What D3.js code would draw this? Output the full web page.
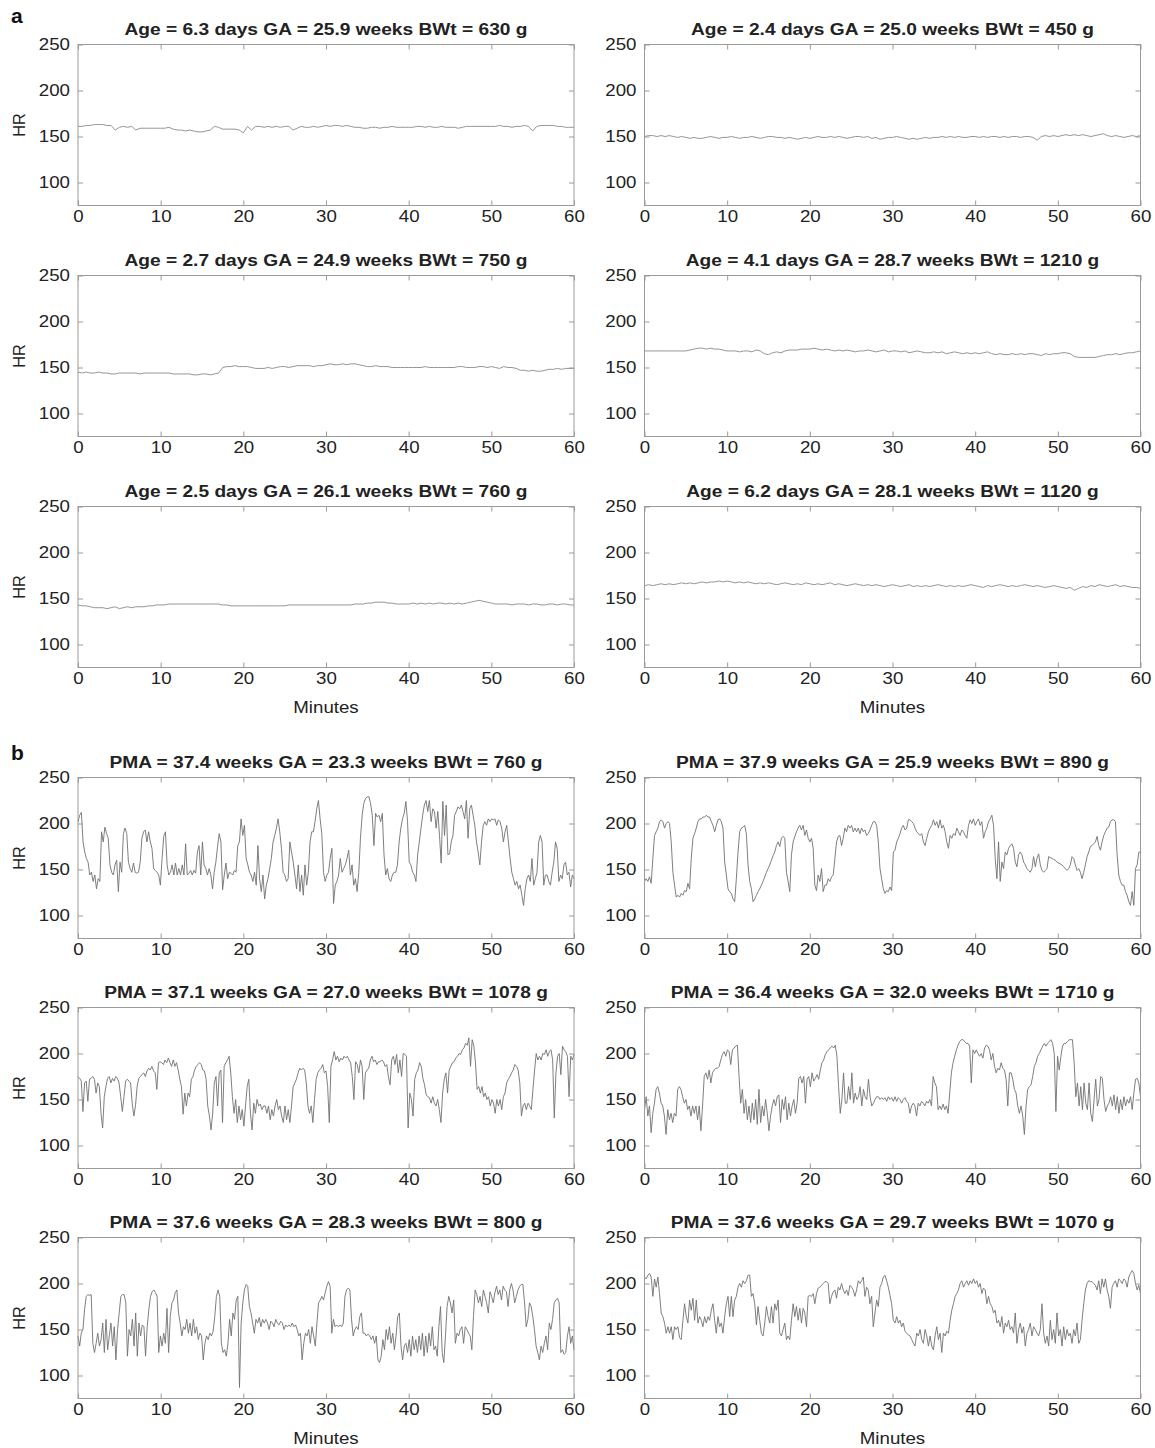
<!DOCTYPE html>
<html>
<head>
<meta charset="utf-8">
<script src="https://cdn.jsdelivr.net/npm/d3@7"></script>
<style>
  body { margin: 0; background: #fff; }
</style>
</head>
<body>
<div id="chart"></div>
<script>
var W = 1155, H = 1448;

// x ticks (minutes) and y ticks (HR)
var minutes = [0, 10, 20, 30, 40, 50, 60];
var hrTicks = [100, 150, 200, 250];

// panel titles
var titlesA = [
  "Age = 6.3 days GA = 25.9 weeks BWt = 630 g",
  "Age = 2.4 days GA = 25.0 weeks BWt = 450 g",
  "Age = 2.7 days GA = 24.9 weeks BWt = 750 g",
  "Age = 4.1 days GA = 28.7 weeks BWt = 1210 g",
  "Age = 2.5 days GA = 26.1 weeks BWt = 760 g",
  "Age = 6.2 days GA = 28.1 weeks BWt = 1120 g"
];
var titlesB = [
  "PMA = 37.4 weeks GA = 23.3 weeks BWt = 760 g",
  "PMA = 37.9 weeks GA = 25.9 weeks BWt = 890 g",
  "PMA = 37.1 weeks GA = 27.0 weeks BWt = 1078 g",
  "PMA = 36.4 weeks GA = 32.0 weeks BWt = 1710 g",
  "PMA = 37.6 weeks GA = 28.3 weeks BWt = 800 g",
  "PMA = 37.6 weeks GA = 29.7 weeks BWt = 1070 g"
];

// heart rate traces, evenly spaced over 0-60 minutes
var hrA1 = [161,161,162,162,163,163,163,162,162,157,160,161,160,161,157,159,159,159,159,159,159,159,160,158,157,157,156,157,156,155,155,156,157,161,160,158,158,158,158,157,154,161,157,161,161,160,161,160,161,160,161,161,157,159,161,160,160,161,160,161,162,161,162,162,161,162,161,160,160,159,159,160,160,159,160,160,161,160,160,160,160,160,161,161,160,161,160,160,161,160,160,160,159,160,161,161,161,161,161,161,161,161,162,161,161,160,161,161,162,161,156,161,162,162,162,162,161,161,160,160,160];
var hrA2 = [150,151,151,150,151,150,151,150,149,150,149,148,149,148,148,149,150,149,148,149,149,150,149,148,149,149,150,149,148,149,150,150,149,149,148,149,148,147,148,149,148,149,150,149,149,150,149,150,149,148,149,150,150,149,150,148,149,147,148,149,149,150,149,148,147,148,147,148,149,148,149,149,150,149,150,149,150,149,149,150,150,149,150,149,150,150,149,150,149,150,150,149,150,150,149,146,150,151,150,151,150,151,152,151,152,151,152,151,150,151,152,153,151,150,151,150,149,150,151,150,151];
var hrA3 = [145,144,145,144,144,145,144,144,143,143,144,144,144,144,144,143,144,144,144,144,144,144,144,143,143,143,143,143,142,142,143,143,142,143,144,150,151,151,152,151,151,151,150,149,149,149,150,149,150,151,151,150,151,152,152,152,152,151,152,152,153,154,153,153,154,153,154,154,153,152,151,151,152,151,151,151,150,150,150,150,150,150,150,150,151,150,150,150,150,150,150,150,151,151,150,150,150,151,151,150,151,150,149,151,150,150,149,147,147,146,147,146,146,147,148,148,149,148,149,149,149];
var hrA4 = [168,168,168,168,168,168,168,168,168,168,168,169,170,171,171,170,171,170,170,169,168,168,168,167,168,168,167,169,168,165,164,166,167,166,168,169,169,169,170,170,170,171,170,169,170,169,168,169,168,169,168,167,168,168,169,168,167,168,169,167,168,168,167,168,166,167,168,167,166,166,167,166,167,165,166,167,166,165,166,165,166,165,166,167,165,164,165,164,164,165,164,165,164,165,165,164,163,165,164,165,165,166,166,165,162,161,161,161,161,161,162,163,164,164,165,164,165,166,166,167,168];
var hrA5 = [143,142,142,141,140,140,140,139,140,141,139,140,141,140,141,141,141,142,142,143,143,143,144,144,144,144,144,144,144,144,144,144,144,144,144,143,143,142,142,142,142,142,142,142,142,142,142,142,142,142,142,143,143,143,143,143,143,143,143,143,143,143,143,143,143,143,143,144,144,144,145,145,146,146,146,145,145,144,144,144,144,145,144,145,144,145,144,145,145,144,145,144,145,144,145,146,147,148,147,146,145,144,144,144,144,143,144,144,144,143,144,144,143,143,144,144,143,144,144,143,143];
var hrA6 = [164,165,164,165,166,165,166,165,166,167,166,167,166,167,168,167,168,168,169,168,169,168,167,168,167,168,167,166,167,166,167,166,165,166,167,166,165,166,165,167,166,165,166,165,166,167,165,166,165,164,165,166,165,164,165,164,165,164,163,164,165,164,163,164,165,163,164,163,164,163,164,165,164,163,164,163,164,163,164,165,164,163,162,164,163,164,165,164,163,164,163,164,165,164,163,164,163,162,163,164,163,162,161,162,159,161,163,162,164,163,165,164,163,164,165,163,164,163,162,162,161];

var hrB1 = [202,209,212,180,169,162,158,144,147,137,144,129,140,137,
  191,180,196,189,184,155,147,144,155,160,126,158,147,189,195,189,158,151,147,157,147,146,147,158,184,191,193,180,191,180,173,151,149,147,144,133,162,186,191,155,144,147,155,144,157,144,151,144,155,144,178,144,146,149,144,149,146,169,176,144,180,155,151,144,151,144,129,147,158,175,189,180,128,144,157,140,147,146,144,149,147,176,180,205,187,198,162,155,147,144,137,147,133,176,140,126,144,118,133,140,151,162,180,187,195,205,191,173,147,144,137,140,180,169,158,144,129,155,126,144,122,155,133,147,180,191,191,202,216,225,205,189,147,137,144,147,162,173,113,133,137,144,162,147,151,155,162,171,144,155,133,140,126,147,184,209,222,227,229,229,222,209,176,211,207,209,202,211,166,144,151,140,137,144,147,147,155,180,195,205,211,224,202,158,155,147,144,137,166,180,195,209,220,225,213,225,202,216,213,195,213,187,157,224,187,220,166,167,180,187,209,213,218,216,220,213,205,225,184,216,220,209,198,180,169,155,180,198,202,198,205,202,205,204,205,198,204,202,195,180,191,198,180,162,147,140,133,137,129,133,122,111,129,140,144,137,162,133,140,147,180,187,180,133,144,144,137,133,147,158,180,173,137,144,140,155,158,144,147,131,144,140];

var hrB2 = [137,140,137,142,135,162,187,191,195,202,204,202,195,200,202,200,
  180,147,133,120,122,120,124,122,127,126,135,129,162,184,189,195,202,205,205,207,207,209,207,207,202,198,191,198,204,205,202,195,158,144,129,126,124,118,115,140,169,191,195,196,198,189,155,137,129,115,118,122,126,129,133,137,142,147,151,155,160,165,169,176,180,175,184,186,184,147,137,126,166,180,186,191,195,198,193,198,187,193,184,180,184,173,133,127,144,137,151,126,133,133,140,137,142,144,162,180,186,187,176,184,195,191,198,195,198,191,195,191,195,189,195,191,193,187,189,193,198,202,202,198,180,151,140,129,124,127,126,131,127,169,171,180,184,189,195,198,193,195,204,204,202,200,195,191,189,187,189,180,176,184,191,195,198,204,198,202,195,204,195,198,191,180,173,187,184,189,187,195,191,187,193,191,187,184,198,204,200,205,198,202,205,198,202,184,191,195,202,205,209,198,162,140,180,137,158,151,169,166,173,176,178,173,158,153,166,169,166,158,155,151,149,147,151,164,153,162,167,155,149,147,149,151,164,163,162,161,160,158,157,156,155,153,151,149,151,155,164,162,155,149,151,147,140,147,155,164,169,175,176,178,180,186,176,171,180,187,191,195,196,202,204,204,202,166,144,137,133,133,126,122,115,111,126,111,151,155,169,169];

var hrB3 = [175,173,170,137,168,170,148,172,173,175,172,157,168,164,135,119,153,164,173,175,168,173,170,175,173,168,153,137,153,170,172,170,168,146,132,143,164,173,175,177,179,175,181,184,182,186,181,179,161,190,191,190,188,193,190,195,190,186,193,186,190,182,172,164,134,157,143,157,153,172,175,182,186,188,190,188,182,181,172,143,132,117,135,168,175,143,179,182,125,186,190,193,197,179,153,135,150,125,143,128,139,121,143,164,172,135,117,146,135,150,143,145,139,143,143,135,143,128,139,132,143,150,139,143,132,125,143,128,139,125,143,164,168,172,179,184,182,184,182,168,143,135,143,125,150,172,179,182,184,188,179,181,164,125,186,193,202,193,197,191,195,193,197,195,197,193,190,175,150,191,188,179,193,186,150,179,182,184,193,197,191,193,188,191,191,193,191,186,188,175,166,193,197,188,199,179,193,175,200,199,197,119,157,150,132,172,179,182,190,186,173,166,155,153,152,146,153,146,143,150,139,125,157,172,179,157,182,186,190,191,195,197,200,199,204,206,211,209,217,186,215,208,190,161,164,157,164,153,157,150,153,143,150,146,135,150,143,150,139,153,157,168,172,175,179,182,188,186,182,168,132,143,146,139,146,143,139,161,182,200,193,197,193,200,199,204,197,202,204,193,130,179,197,200,177,208,204,202,197,153,197,193,199];

var hrB4 = [139,153,132,143,114,135,146,161,164,157,146,143,132,112,139,128,135,125,135,132,161,164,161,153,146,150,139,143,132,143,135,143,128,143,116,143,175,179,172,182,168,179,182,184,184,186,193,199,202,197,204,202,188,204,206,208,209,175,146,161,135,150,128,143,125,146,128,150,123,161,125,143,132,150,135,116,132,143,150,143,153,155,125,150,139,153,128,146,132,143,150,135,146,173,175,168,175,146,172,175,164,179,170,173,177,172,182,190,193,199,202,204,206,208,206,209,197,164,135,150,179,146,146,164,150,179,146,157,150,153,164,143,161,153,150,172,153,143,146,150,153,153,150,152,150,152,148,153,150,152,148,153,148,152,150,146,150,152,148,146,135,143,146,143,132,146,143,148,146,143,148,146,150,143,175,168,164,139,143,139,145,139,143,135,157,179,190,197,204,209,213,215,215,213,211,211,208,168,204,200,204,200,197,200,195,206,209,208,204,193,200,186,179,184,182,190,184,182,172,143,179,179,172,161,157,143,135,143,132,112,143,161,164,166,175,186,190,197,200,204,208,211,208,211,213,215,211,200,137,197,182,197,208,211,211,213,215,215,215,190,153,168,143,164,139,168,146,139,168,135,126,150,172,143,150,175,173,150,137,143,146,153,143,155,139,153,135,150,139,153,143,150,146,153,139,157,172,173,168,153];

var hrB5 = [143,132,146,150,172,186,188,187,188,135,125,135,146,132,139,157,125,161,128,143,157,132,153,117,150,168,186,188,188,179,121,150,143,161,132,168,121,157,143,155,153,121,153,172,186,191,193,190,186,125,143,132,146,135,173,125,164,179,182,190,193,168,157,143,153,150,161,146,157,143,161,146,153,139,146,143,117,135,143,139,146,143,148,164,186,193,186,135,125,128,121,135,161,143,168,161,182,186,87,157,179,193,199,197,175,168,157,146,161,157,163,153,161,157,161,157,150,159,157,153,161,157,155,159,157,150,155,153,155,153,157,153,155,150,143,146,117,135,146,143,150,135,153,143,132,157,179,182,186,182,190,197,202,197,146,161,153,155,153,155,153,157,186,193,195,193,161,143,150,153,150,164,168,146,146,143,145,143,139,143,135,143,117,114,121,139,128,150,139,153,135,146,128,143,164,168,132,117,132,135,125,139,121,143,128,139,125,143,128,146,121,143,125,146,132,153,128,132,121,153,175,125,114,143,175,186,179,168,182,135,146,143,150,153,135,153,150,146,143,128,164,193,188,179,186,175,193,186,179,168,191,186,179,190,197,188,193,182,197,193,191,175,193,200,193,179,186,193,197,199,199,179,153,161,179,175,164,150,132,125,117,132,125,135,143,128,157,150,161,179,182,184,179,125,128,123,125,143,153,135,143,128];

var hrB6 = [207,205,209,211,207,186,205,196,207,189,168,164,157,146,153,146,153,139,153,150,153,141,139,160,178,164,157,182,171,184,160,182,157,164,160,153,164,157,164,160,171,178,160,146,164,153,157,146,164,178,186,164,186,164,182,186,196,200,196,203,200,203,209,209,186,189,178,155,175,160,146,143,157,175,164,157,175,157,178,171,182,146,143,150,157,139,143,139,160,178,164,175,160,173,157,173,168,153,186,187,186,189,178,189,195,196,198,200,202,202,200,178,186,191,193,184,196,193,200,193,189,193,187,198,196,193,186,193,203,200,203,207,186,196,193,178,186,153,168,182,175,196,200,207,209,203,196,187,178,160,157,164,157,160,153,157,148,146,144,143,139,135,132,146,143,150,139,135,150,143,132,143,132,128,143,153,139,146,125,146,143,148,146,160,171,178,186,189,193,200,203,196,200,203,198,203,200,205,200,203,196,200,189,195,193,178,186,178,175,168,171,157,160,153,164,146,157,153,160,150,153,146,168,135,150,157,146,153,132,146,150,157,143,153,150,146,143,150,178,146,135,143,132,160,139,150,135,168,143,150,132,153,139,150,143,146,135,150,143,157,135,139,160,178,193,200,203,202,202,200,198,193,203,189,205,196,205,193,186,173,196,200,203,196,205,203,200,205,203,196,207,211,214,211,200,193,198,189];

// layout
var colX = [78, 644.5];
var rowY = [44.5, 275.5, 506.5, 777.5, 1007.5, 1237.5];
var plotW = 496, plotH = 161;
var SX = 1.14; // the figure is slightly stretched horizontally
var fontFam = "'Liberation Sans', Arial, Helvetica, sans-serif";

var seriesA = [hrA1, hrA2, hrA3, hrA4, hrA5, hrA6];
var seriesB = [hrB1, hrB2, hrB3, hrB4, hrB5, hrB6];

var panels = [];
seriesA.forEach(function(s, i) {
  panels.push({hr: s, title: titlesA[i], col: i % 2, row: Math.floor(i / 2), color: "#8a8a8a"});
});
seriesB.forEach(function(s, i) {
  panels.push({hr: s, title: titlesB[i], col: i % 2, row: 3 + Math.floor(i / 2), color: "#707070"});
});

var svg = d3.select("#chart").append("svg")
  .attr("width", W).attr("height", H)
  .style("font-family", fontFam)
  .style("background", "#fff");

var x = d3.scaleLinear().domain([0, 60]).range([0, plotW]);
var y = d3.scaleLinear().domain([75, 250]).range([plotH, 0]);

function styleAxis(sel, showText) {
  sel.select(".domain").remove();
  sel.selectAll(".tick line").attr("stroke", "#9a9a9a");
  if (!showText) sel.selectAll(".tick text").remove();
  sel.selectAll(".tick text")
    .attr("fill", "#222")
    .style("font-size", "16.4px");
}

panels.forEach(function(p) {
  var g = svg.append("g")
    .attr("transform", "translate(" + colX[p.col] + "," + rowY[p.row] + ")");

  var line = d3.line()
    .x(function(d, i) { return x(i * 60 / (p.hr.length - 1)); })
    .y(function(d) { return y(d); });

  g.append("path")
    .datum(p.hr)
    .attr("fill", "none")
    .attr("stroke", p.color)
    .attr("stroke-width", 0.9)
    .attr("stroke-linejoin", "round")
    .attr("d", line);

  var bottom = g.append("g")
    .attr("transform", "translate(0," + plotH + ")")
    .call(d3.axisBottom(x).tickValues(minutes).tickSizeInner(-5).tickSizeOuter(0).tickPadding(5));
  styleAxis(bottom, true);
  bottom.selectAll(".tick text").attr("transform", "scale(" + SX + ",1)");

  var top = g.append("g")
    .call(d3.axisTop(x).tickValues(minutes).tickSizeInner(-5).tickSizeOuter(0));
  styleAxis(top, false);

  var left = g.append("g")
    .call(d3.axisLeft(y).tickValues(hrTicks).tickSizeInner(-5).tickSizeOuter(0).tickPadding(7));
  styleAxis(left, true);
  left.selectAll(".tick text").attr("transform", "scale(" + SX + ",1)");

  var right = g.append("g")
    .attr("transform", "translate(" + plotW + ",0)")
    .call(d3.axisRight(y).tickValues(hrTicks).tickSizeInner(-5).tickSizeOuter(0));
  styleAxis(right, false);

  g.append("rect")
    .attr("width", plotW).attr("height", plotH)
    .attr("fill", "none")
    .attr("stroke", "#9a9a9a")
    .attr("stroke-width", 1);

  g.append("text")
    .attr("transform", "translate(" + plotW / 2 + ",-10) scale(" + SX + ",1)")
    .attr("text-anchor", "middle")
    .attr("font-weight", "bold")
    .attr("fill", "#222")
    .style("font-size", "16.8px")
    .text(p.title);

  if (p.col === 0) {
    g.append("text")
      .attr("transform", "translate(-53," + plotH / 2 + ") rotate(-90)")
      .attr("text-anchor", "middle")
      .attr("fill", "#222")
      .style("font-size", "16.4px")
      .text("HR");
  }
  if (p.row === 2 || p.row === 5) {
    g.append("text")
      .attr("transform", "translate(" + plotW / 2 + "," + (plotH + 45) + ") scale(" + SX + ",1)")
      .attr("text-anchor", "middle")
      .attr("fill", "#222")
      .style("font-size", "16.4px")
      .text("Minutes");
  }
});

// panel letters
svg.append("text").attr("x", 11).attr("y", 23)
  .attr("font-weight", "bold").attr("fill", "#111").style("font-size", "21px").text("a");
svg.append("text").attr("x", 11).attr("y", 760)
  .attr("font-weight", "bold").attr("fill", "#111").style("font-size", "21px").text("b");
</script>
</body>
</html>
